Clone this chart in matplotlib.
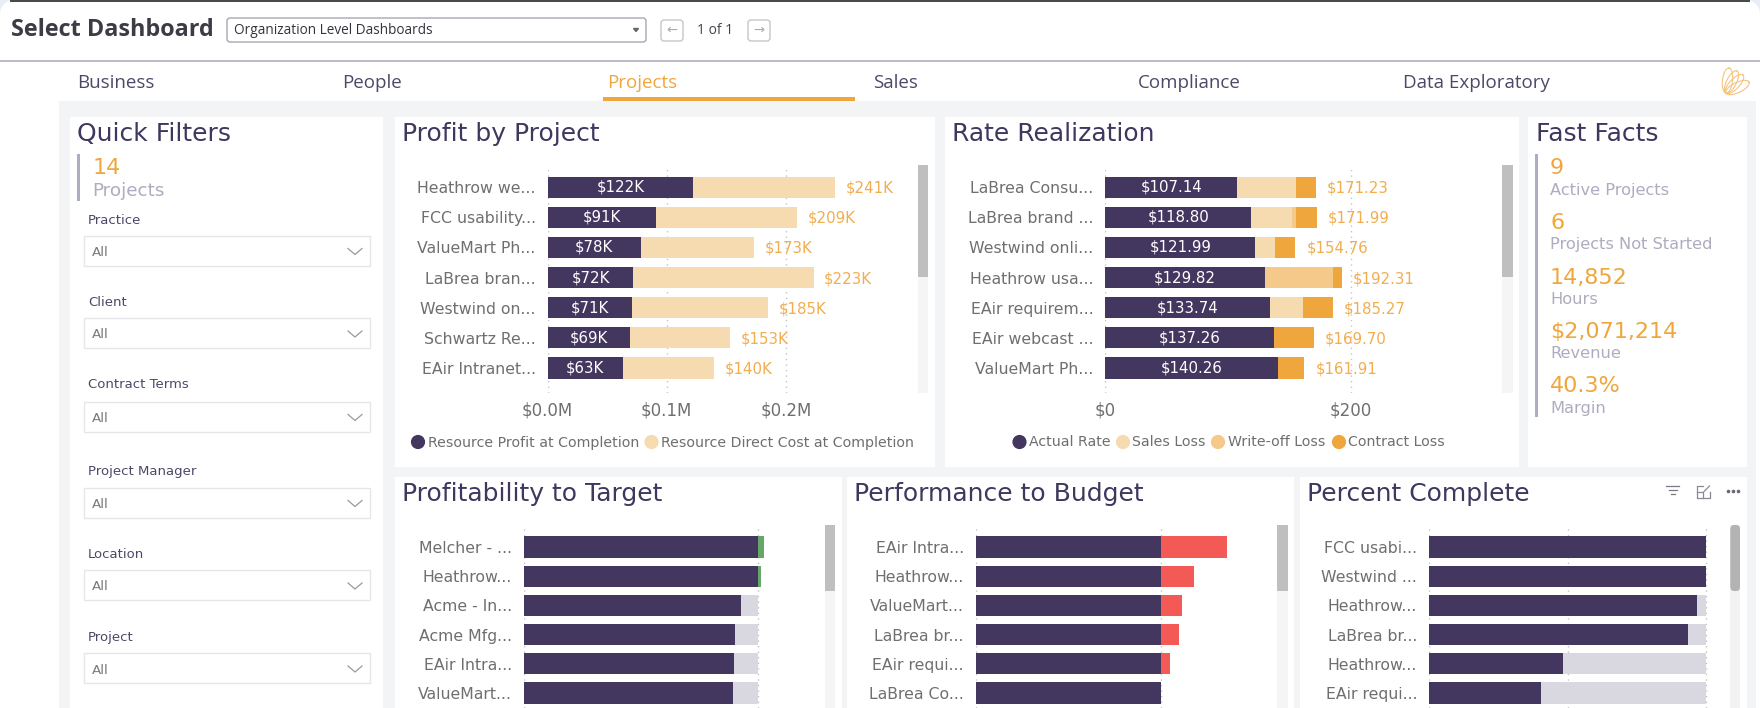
import numpy as np
import matplotlib
matplotlib.use('Agg')
import matplotlib.pyplot as plt
from matplotlib.patches import Rectangle, FancyBboxPatch, Circle

W = 1760
H = 708

DARK = '#44375f'
CREAM = '#f6dbb0'
WRITEOFF = '#f5c98a'
ORANGE = '#efa63c'
PALE = '#d9d8e1'
GREEN = '#67a568'
RED = '#f45a55'
GREY_TXT = '#6f6f6f'
TITLE = '#40375f'
SOFT = '#aeacc0'
BG = '#f3f4f6'

# Profit by Project
profit_names = ['Heathrow we...', 'FCC usability...', 'ValueMart Ph...', 'LaBrea bran...',
                'Westwind on...', 'Schwartz Re...', 'EAir Intranet...']
profit_vals = [122, 91, 78, 72, 71, 69, 63]
profit_totals = [241, 209, 173, 223, 185, 153, 140]

# Rate Realization
rate_names = ['LaBrea Consu...', 'LaBrea brand ...', 'Westwind onli...', 'Heathrow usa...',
              'EAir requirem...', 'EAir webcast ...', 'ValueMart Ph...']
rate_actual = [107.14, 118.80, 121.99, 129.82, 133.74, 137.26, 140.26]
rate_sales = [48.0, 33.0, 15.9, 0, 26.9, 0, 0]
rate_writeoff = [0, 3.7, 0, 55.8, 0, 0, 0]
rate_contract = [16.09, 16.49, 16.87, 6.69, 24.63, 32.44, 21.65]
rate_totals = [171.23, 171.99, 154.76, 192.31, 185.27, 169.70, 161.91]

# Profitability to Target
target_names = ['Melcher - ...', 'Heathrow...', 'Acme - In...', 'Acme Mfg...', 'EAir Intra...', 'ValueMart...']
target_vals = [100, 100, 92.7, 90.2, 89.8, 89.5]
target_gap = [0, 0, 7.3, 9.8, 10.2, 10.5]
target_over = [2.7, 1.3, 0, 0, 0, 0]

# Performance to Budget
budget_names = ['EAir Intra...', 'Heathrow...', 'ValueMart...', 'LaBrea br...', 'EAir requi...', 'LaBrea Co...']
budget_vals = [100, 100, 100, 100, 100, 100]
budget_over = [36, 18.2, 11.4, 9.9, 5, 0]

# Percent Complete
complete_names = ['FCC usabi...', 'Westwind ...', 'Heathrow...', 'LaBrea br...', 'Heathrow...', 'EAir requi...']
complete_vals = [100, 100, 96.5, 93.3, 48.3, 40.3]
complete_rest = [0, 0, 3.5, 6.7, 51.7, 59.7]

tabs = ['Business', 'People', 'Projects', 'Sales', 'Compliance', 'Data Exploratory']
filters = ['Practice', 'Client', 'Contract Terms', 'Project Manager', 'Location', 'Project']
facts = ['9', '6', '14,852', '$2,071,214', '40.3%']
fact_names = ['Active Projects', 'Projects Not Started', 'Hours', 'Revenue', 'Margin']

plt.rcParams['font.family'] = 'DejaVu Sans'
fig = plt.figure(figsize=(W / 100, H / 100), dpi=100, facecolor='white')

# page layer in pixel coordinates
bg = fig.add_axes([0, 0, 1, 1], zorder=0)
bg.set_xlim(0, W)
bg.set_ylim(H, 0)
bg.axis('off')


def box(x0, y0, x1, y1, color, **kw):
    bg.add_patch(Rectangle((x0, y0), x1 - x0, y1 - y0, facecolor=color, edgecolor='none', **kw))


def rbox(x0, y0, x1, y1, edge, r=3, face='white', lw=1):
    bg.add_patch(FancyBboxPatch((x0 + r, y0 + r), x1 - x0 - 2 * r, y1 - y0 - 2 * r,
                                boxstyle='round,pad=%d,rounding_size=%d' % (r, r),
                                facecolor=face, edgecolor=edge, lw=lw))


def label(x, y, s, size, color, **kw):
    kw.setdefault('va', 'center')
    bg.text(x, y, s, fontsize=size, color=color, **kw)


def add_chart(left, top, right, bottom):
    ax = fig.add_axes([left / W, 1 - bottom / H, (right - left) / W, (bottom - top) / H], zorder=2)
    ax.patch.set_alpha(0)
    for s in ax.spines.values():
        s.set_visible(False)
    ax.tick_params(length=0)
    ax.set_axisbelow(True)
    ax.grid(axis='x', linestyle=(0, (1, 3)), color='#c4c4c4', lw=1)
    ax.grid(axis='y', visible=False)
    return ax


def row_limits(ax, top, bottom, row0, step):
    ax.set_ylim((bottom - row0) / step, (top - row0) / step)


def scrollbar(x0, x1, y0, y1, thumb, color='#bfbfbf'):
    box(x0, y0, x1, y1, '#f5f5f5')
    box(x0, y0, x1, thumb, color)


# header, with the rounded window corners
box(0, 0, 14, 14, '#e9edf8')
box(1746, 0, W, 14, '#e9edf8')
bg.add_patch(Circle((14, 14), 14, color='white', lw=0))
bg.add_patch(Circle((1746, 14), 14, color='white', lw=0))
box(10, 0, 1750, 1.5, '#4a4a4a')
box(0, 60, W, 61.5, '#bcbcc4')
label(11, 30.5, 'Select Dashboard', 16.8, '#3c3c46', family='Open Sans', fontweight='bold')
rbox(227, 18, 646, 42, '#a6a6b4')
label(234, 31, 'Organization Level Dashboards', 9.8, '#33333f', family='Open Sans')
bg.fill([633.5, 638.5, 636], [28.5, 28.5, 31.5], color='#666666')
rbox(661, 20, 683, 41, '#c6c6cc')
rbox(748, 20, 770, 41, '#c6c6cc')
label(672, 30.5, '←', 9.5, '#a8a8b0', ha='center')
label(759, 30.5, '→', 9.5, '#a8a8b0', ha='center')
label(697, 30, '1 of 1', 10, '#44444f', family='Open Sans')

# tabs
tab_x = [77, 342, 607, 873, 1138, 1403]
for x, t in zip(tab_x, tabs):
    label(x, 83, t, 13.5, ORANGE if t == 'Projects' else '#4e4868', family='Open Sans')
box(59, 100.5, 1756, H, BG)
box(603, 97, 855, 100.5, ORANGE)

# logo petals, fanning out from the base
t = np.linspace(0, 2 * np.pi, 60)
for tip_x, tip_y in [(1729, 68), (1737, 71), (1743, 75), (1749, 82)]:
    dx, dy = tip_x - 1726, tip_y - 93
    u = (1 + np.cos(t)) / 2
    v = 0.2 * np.sin(t)
    bg.plot(1726 + u * dx - v * dy, 93 + u * dy + v * dx, color='#f5c47f', lw=0.8)

# panels
box(70, 117, 383, H, 'white')
box(395, 117, 935, 466.5, 'white')
box(945, 117, 1519, 466.5, 'white')
box(1528, 117, 1747, 466.5, 'white')
box(395, 477, 842, H, 'white')
box(847, 477, 1294, H, 'white')
box(1300, 477, 1747, H, 'white')

title_size = 18
label(77, 134, 'Quick Filters', title_size, TITLE)
label(402, 134, 'Profit by Project', title_size, TITLE)
label(952, 134, 'Rate Realization', title_size, TITLE)
label(1536, 134, 'Fast Facts', title_size, TITLE)
label(402, 494, 'Profitability to Target', title_size, TITLE)
label(854, 494, 'Performance to Budget', title_size, TITLE)
label(1307, 494, 'Percent Complete', title_size, TITLE)

# quick filters
box(77, 154, 79.5, 201, SOFT)
label(92.5, 167.5, '14', 16, ORANGE)
label(92.5, 191, 'Projects', 13.2, SOFT)
label_y = [220, 302, 385, 471, 554, 637]
box_y = [235.5, 318, 401.5, 487.5, 570, 653]
for name, ly, by in zip(filters, label_y, box_y):
    label(88, ly, name, 9.5, '#4e4868')
    bg.add_patch(Rectangle((84, by), 286, 30, facecolor='white', edgecolor='#e6e6ea', lw=1))
    label(92, by + 17, 'All', 9.7, '#7a7a7a')
    bg.plot([348, 355, 362], [by + 13, by + 19, by + 13], color='#9a9a9a', lw=0.9)

# fast facts
box(1535, 154, 1538, 417, SOFT)
val_y = [168, 223, 278, 332, 386]
name_y = [191, 244, 299, 354, 408]
for v, n, vy, ny in zip(facts, fact_names, val_y, name_y):
    label(1550, vy, v, 16, ORANGE)
    label(1550, ny, n, 11.7, SOFT)

# Profit by Project chart
ax = add_chart(547.5, 167, 918, 393)
row_limits(ax, 167, 393, 187.3, 30.1)
ax.set_xlim(0, 310.6)
rows = range(len(profit_names))
rest = [t - v for t, v in zip(profit_totals, profit_vals)]
ax.barh(rows, profit_vals, height=0.71, color=DARK)
ax.barh(rows, rest, left=profit_vals, height=0.71, color=CREAM)
for i in rows:
    ax.text(profit_vals[i] / 2, i, '$%dK' % profit_vals[i], color='white', fontsize=10.8, ha='center', va='center')
    ax.text(profit_totals[i] + 9, i + 0.03, '$%dK' % profit_totals[i], color='#f2ad4e', fontsize=10.8, va='center')
ax.set_yticks(list(rows), profit_names, fontsize=11.3, color=GREY_TXT)
ax.set_xticks([0, 100, 200], ['$0.0M', '$0.1M', '$0.2M'], fontsize=12, color=GREY_TXT)
ax.tick_params(axis='y', pad=8.5)
ax.tick_params(axis='x', pad=6)
scrollbar(918, 928, 165, 393, 277)

bg.add_patch(Circle((418, 442), 6.4, color=DARK))
label(427.5, 442.5, 'Resource Profit at Completion', 10.2, GREY_TXT)
bg.add_patch(Circle((651.5, 442), 6.4, color=CREAM))
label(661, 442.5, 'Resource Direct Cost at Completion', 10.2, GREY_TXT)

# Rate Realization chart
ax = add_chart(1105.4, 167, 1502, 393)
row_limits(ax, 167, 393, 187.3, 30.1)
ax.set_xlim(0, 323)
rows = range(len(rate_names))
left = list(rate_actual)
ax.barh(rows, rate_actual, height=0.71, color=DARK)
for vals, col in [(rate_sales, CREAM), (rate_writeoff, WRITEOFF), (rate_contract, ORANGE)]:
    ax.barh(rows, vals, left=left, height=0.71, color=col)
    left = [a + b for a, b in zip(left, vals)]
for i in rows:
    ax.text(rate_actual[i] / 2, i, '$%.2f' % rate_actual[i], color='white', fontsize=10.8, ha='center', va='center')
    ax.text(rate_totals[i] + 9, i + 0.03, '$%.2f' % rate_totals[i], color='#f2ad4e', fontsize=10.8, va='center')
ax.set_yticks(list(rows), rate_names, fontsize=11.3, color=GREY_TXT)
ax.set_xticks([0, 200], ['$0', '$200'], fontsize=12, color=GREY_TXT)
ax.tick_params(axis='y', pad=8.5)
ax.tick_params(axis='x', pad=6)
scrollbar(1502, 1513, 165, 393, 277)

legend_x = [1019.5, 1123, 1218, 1339]
legend_txt = ['Actual Rate', 'Sales Loss', 'Write-off Loss', 'Contract Loss']
legend_col = [DARK, CREAM, WRITEOFF, ORANGE]
for x, t, c in zip(legend_x, legend_txt, legend_col):
    bg.add_patch(Circle((x, 442), 6.4, color=c))
    label(x + 9.5, 442.5, t, 10.2, GREY_TXT)

# Profitability to Target chart
ax = add_chart(523.7, 527, 824, H)
row_limits(ax, 527, H, 547, 29.2)
ax.set_xlim(0, (824 - 523.7) / 2.343)
rows = range(len(target_names))
ax.barh(rows, target_vals, height=0.73, color=DARK)
ax.barh(rows, target_gap, left=target_vals, height=0.73, color=PALE)
ax.barh(rows, target_over, left=target_vals, height=0.73, color=GREEN)
ax.set_yticks(list(rows), target_names, fontsize=11.3, color=GREY_TXT)
ax.set_xticks([0, 100], ['', ''])
ax.tick_params(axis='y', pad=8.5)
scrollbar(824.7, 835.3, 525, H, 590.7)

# Performance to Budget chart
ax = add_chart(975.7, 527, 1276, H)
row_limits(ax, 527, H, 547, 29.2)
ax.set_xlim(0, (1276 - 975.7) / 1.85)
rows = range(len(budget_names))
ax.barh(rows, budget_vals, height=0.73, color=DARK)
ax.barh(rows, budget_over, left=budget_vals, height=0.73, color=RED)
ax.set_yticks(list(rows), budget_names, fontsize=11.3, color=GREY_TXT)
ax.set_xticks([0, 100], ['', ''])
ax.tick_params(axis='y', pad=8.5)
scrollbar(1276.7, 1287.7, 525, H, 590.7)

# Percent Complete chart
ax = add_chart(1429, 527, 1729, H)
row_limits(ax, 527, H, 547, 29.2)
ax.set_xlim(0, 300 / 2.773)
rows = range(len(complete_names))
ax.barh(rows, complete_vals, height=0.73, color=DARK)
ax.barh(rows, complete_rest, left=complete_vals, height=0.73, color=PALE)
ax.set_yticks(list(rows), complete_names, fontsize=11.3, color=GREY_TXT)
ax.set_xticks([0, 50, 100], ['', '', ''])
ax.tick_params(axis='y', pad=8.5)
box(1730.3, 525, 1740, H, '#f2f2f2')
rbox(1730.3, 525, 1740, 591, '#b3b3b3', r=4, face='#b3b3b3', lw=0)

# visual header icons
for x0, x1, y in [(1666, 1679, 485.7), (1669, 1677, 490), (1671, 1674.5, 494.3)]:
    bg.plot([x0, x1], [y, y], color='#7a7a86', lw=0.9)
bg.plot([1703, 1697, 1697, 1709.5, 1709.5], [486, 486, 498, 498, 492], color='#8a8a96', lw=0.9)
bg.plot([1697, 1703, 1703], [492, 492, 498], color='#8a8a96', lw=0.9)
bg.plot([1704, 1709.5], [491.5, 486], color='#8a8a96', lw=0.9)
bg.plot([1728, 1733, 1738], [490.7, 490.7, 490.7], ls='none', marker='o', ms=1.6, color='#6a6a76')

fig.savefig('out.png', dpi=100)
